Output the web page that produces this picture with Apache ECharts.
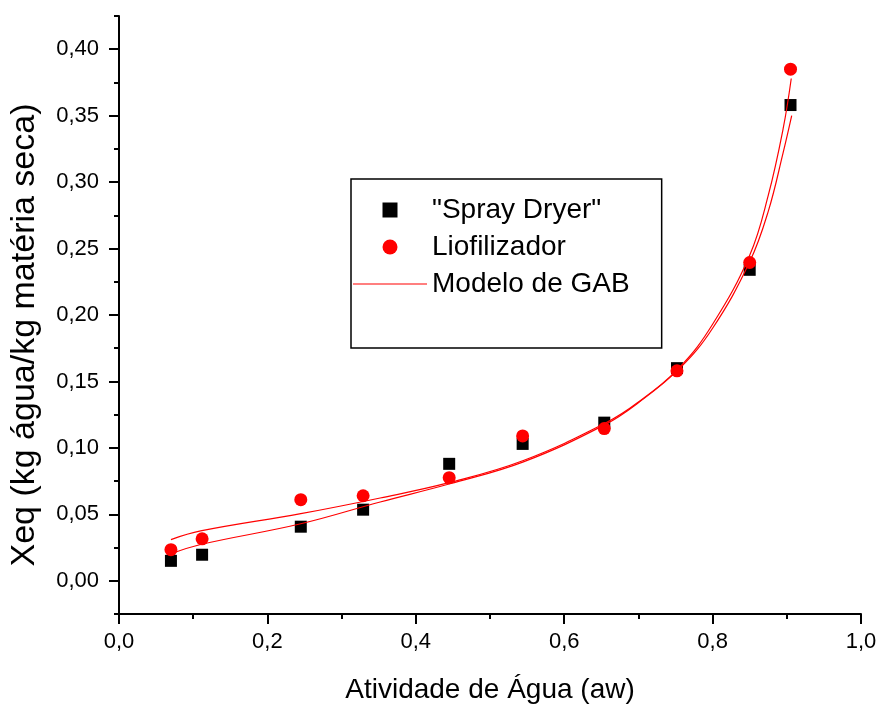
<!DOCTYPE html>
<html>
<head>
<meta charset="utf-8">
<script src="https://cdn.jsdelivr.net/npm/echarts@6/dist/echarts.min.js"></script>
<style>
  html, body { margin: 0; padding: 0; background: #fff; }
  #chart { width: 880px; height: 706px; }
</style>
</head>
<body>
<div id="chart"></div>
<script>
// measured points (aw, Xeq)
const awPoints = [0.070, 0.112, 0.245, 0.329, 0.445, 0.544, 0.654, 0.752, 0.850, 0.905];
const sprayXeq = [0.015, 0.0196, 0.0407, 0.0535, 0.088, 0.103, 0.119, 0.160, 0.234, 0.358];
const lioXeq = [0.0234, 0.0316, 0.061, 0.064, 0.0776, 0.109, 0.1145, 0.158, 0.2395, 0.385];

// GAB curves
const gabLioAw = [0.070, 0.110, 0.245, 0.352, 0.446, 0.545, 0.655, 0.700, 0.756, 0.800, 0.850, 0.875, 0.895, 0.906];
const gabLioXeq = [0.031, 0.0375, 0.0505, 0.0623, 0.0740, 0.0905, 0.1185, 0.1345, 0.161, 0.193, 0.245, 0.290, 0.340, 0.378];
const gabSprayAw = [0.070, 0.110, 0.245, 0.352, 0.446, 0.545, 0.655, 0.700, 0.756, 0.800, 0.850, 0.875, 0.895, 0.9066];
const gabSprayXeq = [0.0203, 0.0273, 0.0429, 0.0593, 0.0730, 0.0895, 0.1175, 0.134, 0.160, 0.190, 0.240, 0.278, 0.322, 0.350];

const yMajor = [0, 0.05, 0.1, 0.15, 0.2, 0.25, 0.3, 0.35, 0.4];
const yMinor = [-0.025, 0.025, 0.075, 0.125, 0.175, 0.225, 0.275, 0.325, 0.375, 0.425];

const font = 'Liberation Sans, Arial, sans-serif';
const zip = (xs, ys) => xs.map((x, i) => [x, ys[i]]);

const chart = echarts.init(document.getElementById('chart'));

const option = {
  backgroundColor: '#fff',
  animation: false,
  grid: { left: 119, right: 19, top: 16, bottom: 92, outerBoundsMode: 'none' },
  legend: {
    orient: 'vertical',
    left: 351,
    top: 179,
    borderColor: '#000',
    borderWidth: 1.5,
    padding: [17, 32, 50, 2],
    itemWidth: 74,
    itemHeight: 15,
    itemGap: 9,
    symbolKeepAspect: true,
    textStyle: { fontFamily: font, fontSize: 28, lineHeight: 26, color: '#000' },
    data: [
      { name: '"Spray Dryer"', icon: 'path://M0,0L10,0L10,10L0,10Z' },
      { name: 'Liofilizador', icon: 'circle' },
      { name: 'Modelo de GAB', icon: 'path://M0,0L74,0L74,1.2L0,1.2Z' }
    ]
  },
  xAxis: [
    {
      type: 'value', min: 0, max: 1, interval: 0.2,
      name: 'Atividade de Água (aw)', nameLocation: 'middle', nameGap: 62,
      nameTextStyle: { fontFamily: font, fontSize: 28, color: '#000' },
      axisLine: { show: true, onZero: false, lineStyle: { color: '#000', width: 2 } },
      axisTick: { show: true, length: 10, lineStyle: { color: '#000', width: 2 } },
      axisLabel: {
        margin: 17, fontFamily: font, fontSize: 22, color: '#000',
        formatter: v => v.toFixed(1).replace('.', ',')
      },
      splitLine: { show: false }
    },
    {
      type: 'value', min: 0, max: 1, interval: 0.1, position: 'bottom',
      axisLine: { show: false, onZero: false },
      axisTick: { show: true, length: 5, lineStyle: { color: '#000', width: 2 } },
      axisLabel: { show: false },
      splitLine: { show: false }
    }
  ],
  yAxis: [
    {
      type: 'value', min: -0.025, max: 0.425,
      name: 'Xeq (kg água/kg matéria seca)', nameLocation: 'middle', nameGap: 77,
      nameTextStyle: { fontFamily: font, fontSize: 34, color: '#000', padding: [0, 40, 0, 0] },
      axisLine: { show: true, onZero: false, lineStyle: { color: '#000', width: 2 } },
      axisTick: { show: true, length: 10, customValues: yMajor, lineStyle: { color: '#000', width: 2 } },
      axisLabel: {
        margin: 20, fontFamily: font, fontSize: 22, color: '#000', customValues: yMajor,
        formatter: v => v.toFixed(2).replace('.', ',')
      },
      splitLine: { show: false }
    },
    {
      type: 'value', min: -0.025, max: 0.425, position: 'left',
      axisLine: { show: false, onZero: false },
      axisTick: { show: true, length: 5, customValues: yMinor, lineStyle: { color: '#000', width: 2 } },
      axisLabel: { show: false, customValues: yMinor },
      splitLine: { show: false }
    }
  ],
  series: [
    {
      name: 'Modelo de GAB', type: 'line', data: zip(gabSprayAw, gabSprayXeq),
      smooth: 0.4, symbol: 'none',
      lineStyle: { color: '#ff0000', width: 1.2 }, itemStyle: { color: '#ff0000' }
    },
    {
      name: 'Modelo de GAB', type: 'line', data: zip(gabLioAw, gabLioXeq),
      smooth: 0.4, symbol: 'none',
      lineStyle: { color: '#ff0000', width: 1.2 }, itemStyle: { color: '#ff0000' }
    },
    {
      name: '"Spray Dryer"', type: 'scatter', data: zip(awPoints, sprayXeq),
      symbol: 'rect', symbolSize: 12, itemStyle: { color: '#000', opacity: 1 }
    },
    {
      name: 'Liofilizador', type: 'scatter', data: zip(awPoints, lioXeq),
      symbol: 'circle', symbolSize: 13, itemStyle: { color: '#ff0000', opacity: 1 }
    }
  ]
};

chart.setOption(option);
</script>
</body>
</html>
